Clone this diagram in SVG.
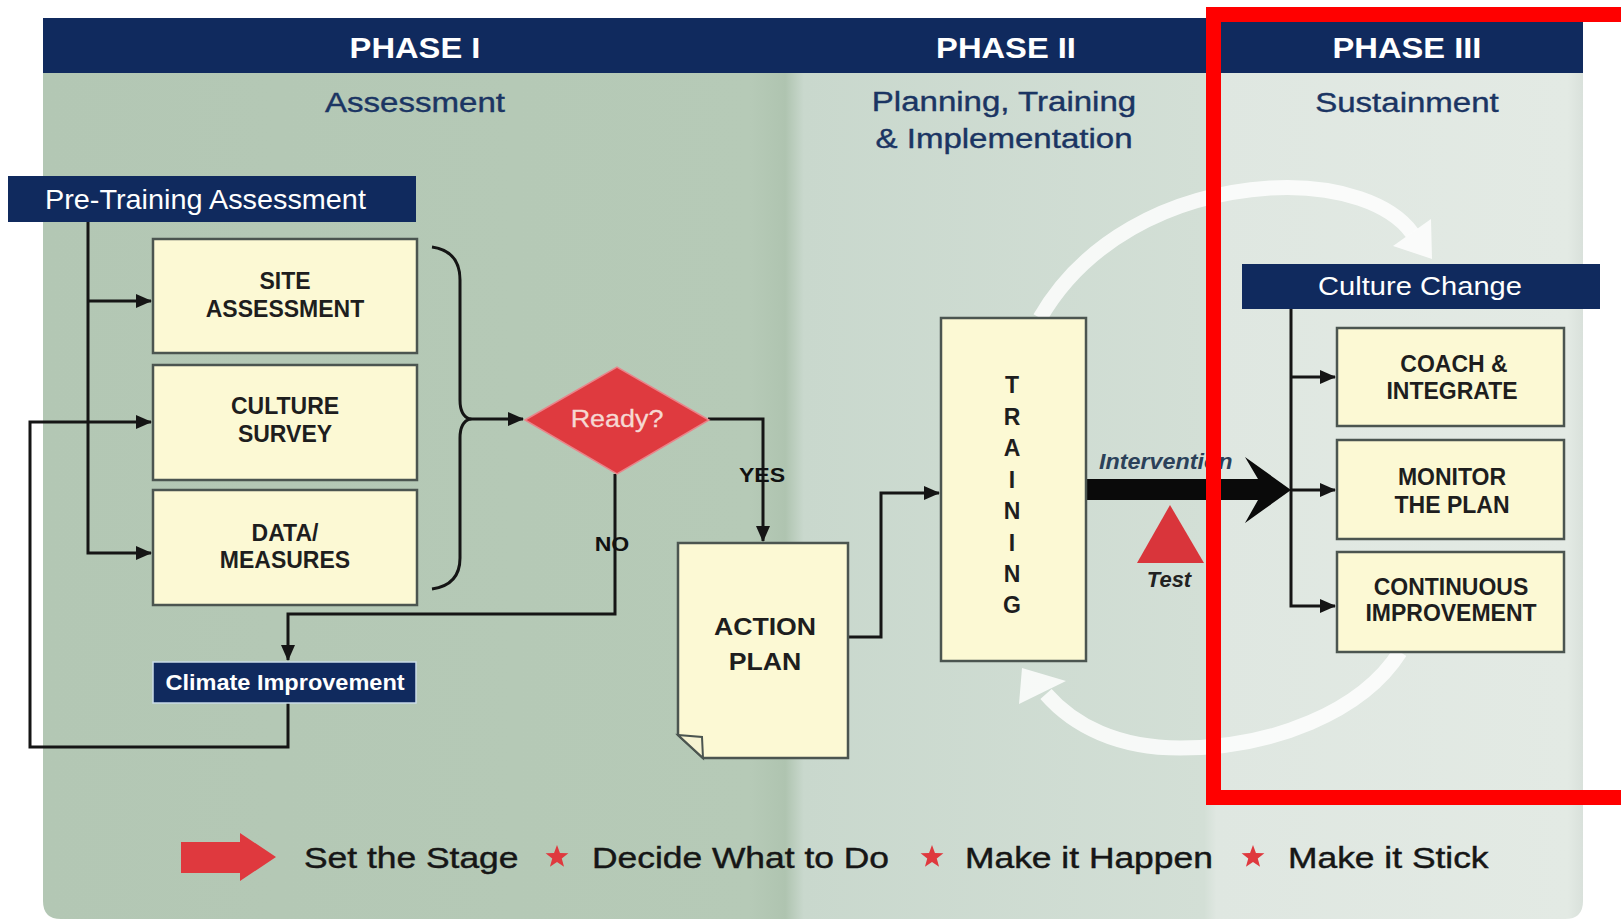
<svg xmlns="http://www.w3.org/2000/svg" width="1621" height="921" viewBox="0 0 1621 921">
<defs>
  <linearGradient id="bg" gradientUnits="userSpaceOnUse" x1="43" y1="0" x2="1583" y2="0">
    <stop offset="0" stop-color="#b3c7b4"/>
    <stop offset="0.459" stop-color="#b6cab7"/>
    <stop offset="0.482" stop-color="#afc4b0"/>
    <stop offset="0.494" stop-color="#c9d8cd"/>
    <stop offset="0.754" stop-color="#d3dfd6"/>
    <stop offset="0.762" stop-color="#dfe7e1"/>
    <stop offset="0.99" stop-color="#e3eae4"/>
    <stop offset="1" stop-color="#d9e1db"/>
  </linearGradient>
  <marker id="ah" markerUnits="userSpaceOnUse" markerWidth="16" markerHeight="14" viewBox="0 0 16 14" refX="15" refY="7" orient="auto">
    <path d="M0,0 L16,7 L0,14 Z" fill="#151515"/>
  </marker>
  <path id="star" d="M0,-12 L2.94,-4.05 L11.41,-3.71 L4.76,1.55 L7.05,9.71 L0,5 L-7.05,9.71 L-4.76,1.55 L-11.41,-3.71 L-2.94,-4.05 Z"/>
</defs>
<style>
  .navy{fill:#102a5e}
  .box{fill:#fcf9d4;stroke:#4b5550;stroke-width:2.5}
  .conn{fill:none;stroke:#151515;stroke-width:3}
  .arc{fill:none;stroke:#ffffff;stroke-opacity:0.82;stroke-width:15}
  .arch{fill:#ffffff;fill-opacity:0.82}
  .ph{font-family:"Liberation Sans",Arial,sans-serif;font-weight:bold;font-size:30px;fill:#ffffff;text-anchor:middle}
  .sub{font-family:"Liberation Sans",Arial,sans-serif;font-size:28px;fill:#1b3563;stroke:#1b3563;stroke-width:0.4;text-anchor:middle}
  .wt{font-family:"Liberation Sans",Arial,sans-serif;fill:#ffffff}
  .bt{font-family:"Liberation Sans",Arial,sans-serif;font-weight:bold;font-size:23px;fill:#1e1e1e;text-anchor:middle}
  .lbl{font-family:"Liberation Sans",Arial,sans-serif;font-weight:bold;font-size:21px;fill:#111111;text-anchor:middle}
  .it{font-family:"Liberation Sans",Arial,sans-serif;font-weight:bold;font-style:italic;font-size:22px;fill:#2b4159}
  .leg{font-family:"Liberation Sans",Arial,sans-serif;font-size:30px;fill:#161616;stroke:#161616;stroke-width:0.45}
  .red{fill:#df393e}
</style>

<rect x="0" y="0" width="1621" height="921" fill="#ffffff"/>
<path d="M43,18 H1583 V901 Q1583,919 1565,919 H61 Q43,919 43,901 Z" fill="url(#bg)"/>

<g id="header">
  <rect class="navy" x="43" y="18" width="1540" height="55"/>
  <text class="ph" transform="translate(415,58) scale(1.09,1)">PHASE I</text>
  <text class="ph" transform="translate(1006,58) scale(1.09,1)">PHASE II</text>
  <text class="ph" transform="translate(1407,58) scale(1.09,1)">PHASE III</text>
  <text class="sub" transform="translate(415,112) scale(1.18,1)">Assessment</text>
  <text class="sub" transform="translate(1004,111) scale(1.18,1)">Planning, Training</text>
  <text class="sub" transform="translate(1004,148) scale(1.18,1)">&amp; Implementation</text>
  <text class="sub" transform="translate(1407,112) scale(1.18,1)">Sustainment</text>
</g>

<g id="cycle-arrows">
  <path class="arc" d="M1040,318 C1082,245 1165,195 1270,188 C1340,184 1392,205 1412,233"/>
  <polygon class="arch" points="1393,246 1431,219 1432,259"/>
  <path class="arc" d="M1400,652 C1362,712 1272,748 1180,748 C1118,748 1074,726 1046,694"/>
  <polygon class="arch" points="1022,668 1066,681 1019,704"/>
</g>

<g id="connectors">
  <path class="conn" d="M88,222 V553 H151" marker-end="url(#ah)"/>
  <path class="conn" d="M88,301 H151" marker-end="url(#ah)"/>
  <path class="conn" d="M288,703 V747 H30 V422 H151" marker-end="url(#ah)"/>
  <path class="conn" d="M432,247 Q460,251 460,280 V400 Q460,416 470,419 Q460,422 460,438 V558 Q460,585 432,589"/>
  <path class="conn" d="M470,419 H523" marker-end="url(#ah)"/>
  <path class="conn" d="M708,419 H763 V541" marker-end="url(#ah)"/>
  <path class="conn" d="M615,474 V614 H288 V660" marker-end="url(#ah)"/>
  <path class="conn" d="M848,637 H881 V493 H939" marker-end="url(#ah)"/>
  <path class="conn" d="M1291,309 V606 H1335" marker-end="url(#ah)"/>
  <path class="conn" d="M1291,377 H1335" marker-end="url(#ah)"/>
  <path class="conn" d="M1291,490 H1335" marker-end="url(#ah)"/>
  <path d="M1086,479 H1258 L1245,457 L1291,490 L1245,523 L1258,500 H1086 Z" fill="#0a0a0a"/>
  <text class="lbl" transform="translate(762,482) scale(1.1,1)">YES</text>
  <text class="lbl" transform="translate(612,551) scale(1.1,1)">NO</text>
  <text class="it" transform="translate(1099,469) scale(1.06,1)">Intervention</text>
</g>

<g id="node-pretraining">
  <rect class="navy" x="8" y="176" width="408" height="46"/>
  <text class="wt" font-size="28" transform="translate(45,209) scale(1.03,1)">Pre-Training Assessment</text>
</g>
<g id="node-site">
  <rect class="box" x="153" y="239" width="264" height="114"/>
  <text class="bt" x="285" y="289">SITE</text>
  <text class="bt" x="285" y="317">ASSESSMENT</text>
</g>
<g id="node-culture-survey">
  <rect class="box" x="153" y="365" width="264" height="115"/>
  <text class="bt" x="285" y="414">CULTURE</text>
  <text class="bt" x="285" y="442">SURVEY</text>
</g>
<g id="node-data">
  <rect class="box" x="153" y="490" width="264" height="115"/>
  <text class="bt" x="285" y="541">DATA/</text>
  <text class="bt" x="285" y="568">MEASURES</text>
</g>
<g id="node-climate">
  <rect class="navy" x="153" y="662" width="263" height="41" stroke="#c9dbe8" stroke-width="1.5"/>
  <text class="wt" font-size="22" font-weight="bold" text-anchor="middle" transform="translate(285,690) scale(1.07,1)">Climate Improvement</text>
</g>
<g id="node-ready">
  <polygon points="525,420 617,367 709,420 617,474" fill="#df3a3f" stroke="#e9848a" stroke-width="1.5"/>
  <text font-family="Liberation Sans, Arial, sans-serif" font-size="23" fill="#f6d8d2" stroke="#f6d8d2" stroke-width="0.3" text-anchor="middle" transform="translate(617,427) scale(1.17,1)">Ready?</text>
</g>
<g id="node-action-plan">
  <path class="box" d="M678,543 H848 V758 H703 L678,735 Z"/>
  <path d="M678,735 L702,737 L703,758 Z" fill="#f6f3d2" stroke="#4b5550" stroke-width="2"/>
  <text class="bt" font-size="26" transform="translate(765,635) scale(1.16,1)">ACTION</text>
  <text class="bt" font-size="26" transform="translate(765,670) scale(1.16,1)">PLAN</text>
</g>
<g id="node-training">
  <rect class="box" x="941" y="318" width="145" height="343"/>
  <text class="bt" font-size="26" x="1012" y="393">T</text>
  <text class="bt" font-size="26" x="1012" y="424.5">R</text>
  <text class="bt" font-size="26" x="1012" y="456">A</text>
  <text class="bt" font-size="26" x="1012" y="487.5">I</text>
  <text class="bt" font-size="26" x="1012" y="519">N</text>
  <text class="bt" font-size="26" x="1012" y="550.5">I</text>
  <text class="bt" font-size="26" x="1012" y="582">N</text>
  <text class="bt" font-size="26" x="1012" y="613">G</text>
</g>
<g id="node-test">
  <polygon points="1170,505 1204,563 1137,563" fill="#d9353b"/>
  <text class="it" x="1169" y="587" text-anchor="middle" style="fill:#222">Test</text>
</g>
<g id="node-culture-change">
  <rect class="navy" x="1242" y="264" width="358" height="45"/>
  <text class="wt" font-size="26" text-anchor="middle" transform="translate(1420,295) scale(1.12,1)">Culture Change</text>
</g>
<g id="node-coach">
  <rect class="box" x="1337" y="328" width="227" height="98"/>
  <text class="bt" x="1454" y="372">COACH &amp;</text>
  <text class="bt" x="1452" y="399">INTEGRATE</text>
</g>
<g id="node-monitor">
  <rect class="box" x="1337" y="440" width="227" height="99"/>
  <text class="bt" x="1452" y="485">MONITOR</text>
  <text class="bt" x="1452" y="513">THE PLAN</text>
</g>
<g id="node-continuous">
  <rect class="box" x="1337" y="552" width="227" height="100"/>
  <text class="bt" x="1451" y="595">CONTINUOUS</text>
  <text class="bt" x="1451" y="621">IMPROVEMENT</text>
</g>

<g id="legend">
  <polygon class="red" points="181,842 240,842 240,833 276,857 240,881 240,873 181,873"/>
  <text class="leg" transform="translate(304,868) scale(1.18,1)">Set the Stage</text>
  <use href="#star" class="red" x="557" y="857"/>
  <text class="leg" transform="translate(592,868) scale(1.18,1)">Decide What to Do</text>
  <use href="#star" class="red" x="932" y="857"/>
  <text class="leg" transform="translate(965,868) scale(1.18,1)">Make it Happen</text>
  <use href="#star" class="red" x="1253" y="857"/>
  <text class="leg" transform="translate(1288,868) scale(1.18,1)">Make it Stick</text>
</g>

<rect id="highlight" x="1213.5" y="14.5" width="600" height="783" fill="none" stroke="#ff0000" stroke-width="15"/>
</svg>
